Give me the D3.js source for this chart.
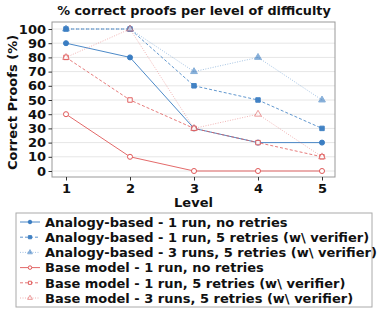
<!DOCTYPE html>
<html><head><meta charset="utf-8">
<script src="https://cdn.jsdelivr.net/npm/d3@7"></script>
<style>body{margin:0;background:#fff}svg{display:block;font-family:"DejaVu Sans",sans-serif}</style>
</head><body><svg id="c" width="381" height="315"></svg>
<script>
const levels = [1, 2, 3, 4, 5];
const yTicks = [0,10,20,30,40,50,60,70,80,90,100];
const seriesNames = [
  "Analogy-based - 1 run, no retries",
  "Analogy-based - 1 run, 5 retries (w\\ verifier)",
  "Analogy-based - 3 runs, 5 retries (w\\ verifier)",
  "Base model - 1 run, no retries",
  "Base model - 1 run, 5 retries (w\\ verifier)",
  "Base model - 3 runs, 5 retries (w\\ verifier)"
];
const analogy1 = [90, 80, 30, 20, 20];
const analogy5 = [100, 100, 60, 50, 30];
const analogy3r = [100, 100, 70, 80, 50];
const base1 = [40, 10, 0, 0, 0];
const base5 = [80, 50, 30, 20, 10];
const base3r = [80, 100, 30, 40, 10];

const blue = "#3a7dc2", red = "#e05a5a";
const series = [
  {name: seriesNames[0], v: analogy1, color: blue, dash: null, op: 0.9, sym: "circle", fill: true},
  {name: seriesNames[1], v: analogy5, color: blue, dash: "3,2", op: 0.8, sym: "square", fill: true},
  {name: seriesNames[2], v: analogy3r, color: blue, dash: "1,1.5", op: 0.45, sym: "triangle", fill: true},
  {name: seriesNames[3], v: base1, color: red, dash: null, op: 0.9, sym: "circle", fill: false},
  {name: seriesNames[4], v: base5, color: red, dash: "3,2", op: 0.8, sym: "square", fill: false},
  {name: seriesNames[5], v: base3r, color: red, dash: "1,1.5", op: 0.45, sym: "triangle", fill: false}
];

const svg = d3.select("#c");
const L = 52, R = 335, T = 22, B = 177;
const x = d3.scaleLinear().domain([1, 5]).range([66, 322]);
const y = d3.scaleLinear().domain([0, 100]).range([171, 29]);

// grid
svg.append("g").selectAll("line").data(yTicks).join("line")
  .attr("x1", L).attr("x2", R).attr("y1", d => y(d)).attr("y2", d => y(d))
  .attr("stroke", "#e6e6e6").attr("stroke-width", 1);

// frame
svg.append("rect").attr("x", L).attr("y", T).attr("width", R - L).attr("height", B - T)
  .attr("fill", "none").attr("stroke", "#999").attr("stroke-width", 1);

// axes
const yAxis = svg.append("g").attr("transform", `translate(${L},0)`)
  .call(d3.axisLeft(y).tickValues(yTicks).tickSize(3.5).tickPadding(2.5));
const xAxis = svg.append("g").attr("transform", `translate(0,${B})`)
  .call(d3.axisBottom(x).tickValues(levels).tickFormat(d3.format("d")).tickSize(3.5).tickPadding(3));
[yAxis, xAxis].forEach(a => {
  a.select(".domain").remove();
  a.selectAll("line").attr("stroke", "#333");
  a.selectAll("text").attr("font-family", "DejaVu Sans").attr("font-weight", "bold")
    .attr("font-size", 13).attr("fill", "#111");
});

// title and labels
svg.append("text").attr("x", 194).attr("y", 15).attr("text-anchor", "middle")
  .attr("font-weight", "bold").attr("font-size", 12.8).attr("fill", "#111")
  .text("% correct proofs per level of difficulty");
svg.append("text").attr("transform", `translate(17,${(T + B) / 2 + 3}) rotate(-90)`)
  .attr("text-anchor", "middle").attr("font-weight", "bold").attr("font-size", 13).attr("fill", "#111")
  .text("Correct Proofs (%)");
svg.append("text").attr("x", (L + R) / 2).attr("y", 207).attr("text-anchor", "middle")
  .attr("font-weight", "bold").attr("font-size", 13).attr("fill", "#111").text("Level");

function marker(g, s, cx, cy, size) {
  const type = s.sym === "circle" ? d3.symbolCircle : s.sym === "square" ? d3.symbolSquare : d3.symbolTriangle;
  g.append("path").attr("d", d3.symbol().type(type).size(size)())
    .attr("transform", `translate(${cx},${cy})`)
    .attr("fill", s.fill ? s.color : "#fff").attr("stroke", s.color)
    .attr("stroke-width", 1).attr("opacity", Math.min(1, s.op + 0.15));
}

const line = d3.line().x((d, i) => x(levels[i])).y(d => y(d));
series.forEach(s => {
  const g = svg.append("g");
  g.append("path").attr("d", line(s.v)).attr("fill", "none").attr("stroke", s.color)
    .attr("stroke-width", 1).attr("stroke-dasharray", s.dash).attr("opacity", s.op);
  s.v.forEach((v, i) => marker(g, s, x(levels[i]), y(v), 20));
});

// legend
const lg = svg.append("g");
lg.append("rect").attr("x", 16).attr("y", 213).attr("width", 356).attr("height", 94)
  .attr("fill", "#fff").attr("stroke", "#aaa").attr("stroke-width", 1);
series.forEach((s, i) => {
  const yy = 222 + i * 15.2;
  const g = lg.append("g");
  g.append("line").attr("x1", 20).attr("x2", 40).attr("y1", yy).attr("y2", yy)
    .attr("stroke", s.color).attr("stroke-width", 1).attr("stroke-dasharray", s.dash).attr("opacity", s.op);
  marker(g, s, 30, yy, 10);
  g.append("text").attr("x", 45).attr("y", yy + 4.7).attr("font-weight", "bold")
    .attr("font-size", 13).attr("fill", "#111").text(s.name);
});
</script></body></html>
